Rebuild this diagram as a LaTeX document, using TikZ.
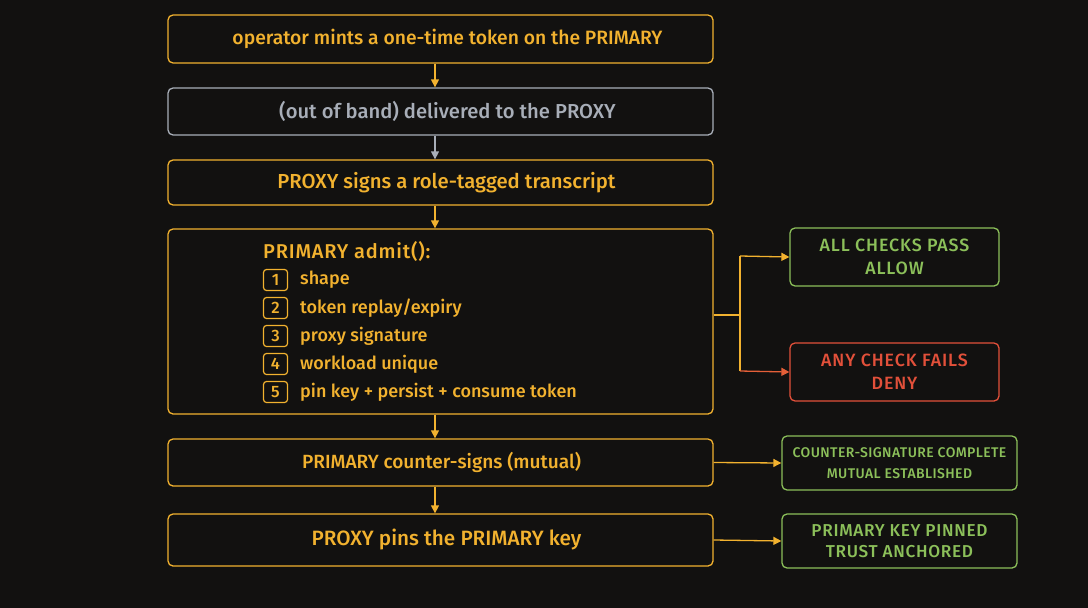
\documentclass[tikz,border=0pt]{standalone}
\usepackage{fontspec}
\IfFontExistsTF{Fira Sans Medium}{\setmainfont{Fira Sans Medium}}{\setmainfont{Fira Sans}}
\usetikzlibrary{arrows.meta,positioning}
\definecolor{bg}{HTML}{121110}
\definecolor{yel}{HTML}{F2B22F}
\definecolor{gry}{HTML}{A8AEB8}
\definecolor{grn}{HTML}{8CC05A}
\definecolor{rd}{HTML}{E2503A}
\newcommand{\fs}[1]{\fontsize{#1}{#1}\selectfont}
\newcommand{\shifted}[2]{\hspace*{#1}\raisebox{-1.5pt}{#2}}
\tikzset{
  box/.style={draw=yel, line width=1.3pt, rounded corners=5pt, fill=bg, text=yel, minimum width=545pt},
  gbox/.style={box, draw=grn, text=grn, align=center},
  rbox/.style={gbox, draw=rd, text=rd},
  num/.style={draw=yel, line width=1.2pt, rounded corners=3pt, minimum width=24pt, minimum height=21pt, inner sep=0pt, text=yel, font=\fs{16.5}},
  item/.style={anchor=west, text=yel, font=\fs{18}, inner sep=0pt},
  arr/.style={draw=yel, line width=1.3pt, -{Triangle[length=8pt,width=8pt]}},
}
\begin{document}
\begin{tikzpicture}[x=1pt,y=-1pt]
\fill[bg] (0,0) rectangle (1088,608);
\useasboundingbox (0,0) rectangle (1088,608);
% main column
\node[box, minimum height=48pt, font=\fs{19.3}] (b1) at (440.5,39) {\shifted{14pt}{operator mints a one-time token on the PRIMARY}};
\node[box, draw=gry, text=gry, minimum height=47pt, font=\fs{20.2}] (b2) at (440.5,111.5) {\shifted{14pt}{(out of band) delivered to the PROXY}};
\node[box, minimum height=45pt, font=\fs{20.3}] (b3) at (440.5,182.5) {\shifted{12pt}{PROXY signs a role-tagged transcript}};
\node[box, minimum height=185pt] (b4) at (440.5,321.5) {};
\node[box, minimum height=47pt, font=\fs{19.1}] (b5) at (440.5,462.5) {\shifted{2pt}{PRIMARY counter-signs (mutual)}};
\node[box, minimum height=52pt, font=\fs{20.7}] (b6) at (440.5,540) {\shifted{12pt}{PROXY pins the PRIMARY key}};
% admit contents
\node[item, font=\fs{20}\addfontfeature{LetterSpace=4}] (t0) at (263,251) {PRIMARY admit():};
\node[num] (n1) at (275.5,280) {1};
\node[num] (n2) at (275.5,308) {2};
\node[num] (n3) at (275.5,336) {3};
\node[num] (n4) at (275.5,364) {4};
\node[num] (n5) at (275.5,392) {5};
\node[item] (t1) at (300,280) {shape};
\node[item] (t2) at (300,308) {token replay/expiry};
\node[item] (t3) at (300,336) {proxy signature};
\node[item] (t4) at (300,364) {workload unique};
\node[item] (t5) at (300,392) {pin key + persist + consume token};
% side boxes
\node[gbox, minimum width=209pt, minimum height=58pt, font=\fontsize{17.8}{23}\selectfont\addfontfeature{LetterSpace=5}] (ok) at (894.5,257) {ALL CHECKS PASS\\ALLOW};
\node[rbox, minimum width=209pt, minimum height=58pt, font=\fontsize{17.8}{23}\selectfont\addfontfeature{LetterSpace=5}] (no) at (894.5,372) {ANY CHECK FAILS\\DENY};
\node[gbox, minimum width=235pt, minimum height=54pt, font=\fontsize{14}{21}\selectfont\addfontfeature{LetterSpace=3}] (cs) at (899.5,463) {COUNTER-SIGNATURE COMPLETE\\MUTUAL ESTABLISHED};
\node[gbox, minimum width=235pt, minimum height=54pt, font=\fontsize{17.2}{21}\selectfont\addfontfeature{LetterSpace=4}] (pk) at (899.5,541) {PRIMARY KEY PINNED\\TRUST ANCHORED};
% vertical arrows
\draw[arr] (b1.south -| 435,0) -- (b2.north -| 435,0);
\draw[arr, draw=gry] (b2.south -| 435,0) -- (b3.north -| 435,0);
\draw[arr] (b3.south -| 435,0) -- (b4.north -| 435,0);
\draw[arr] (b4.south -| 435,0) -- (b5.north -| 435,0);
\draw[arr] (b5.south -| 435,0) -- (b6.north -| 435,0);
% branch
\coordinate (j) at (740,315);
\draw[yel, line width=1.3pt] (b4.east |- j) -- (j);
\draw[yel, line width=1.3pt] (740,256) -- (740,371);
\draw[arr] (740,256) -- (ok.west);
\draw[arr, draw=rd!85!yel] (740,371) -- (no.west);
\draw[arr] (b5.east) -- (cs.west);
\draw[arr] (b6.east) -- (pk.west);
\end{tikzpicture}
\end{document}
